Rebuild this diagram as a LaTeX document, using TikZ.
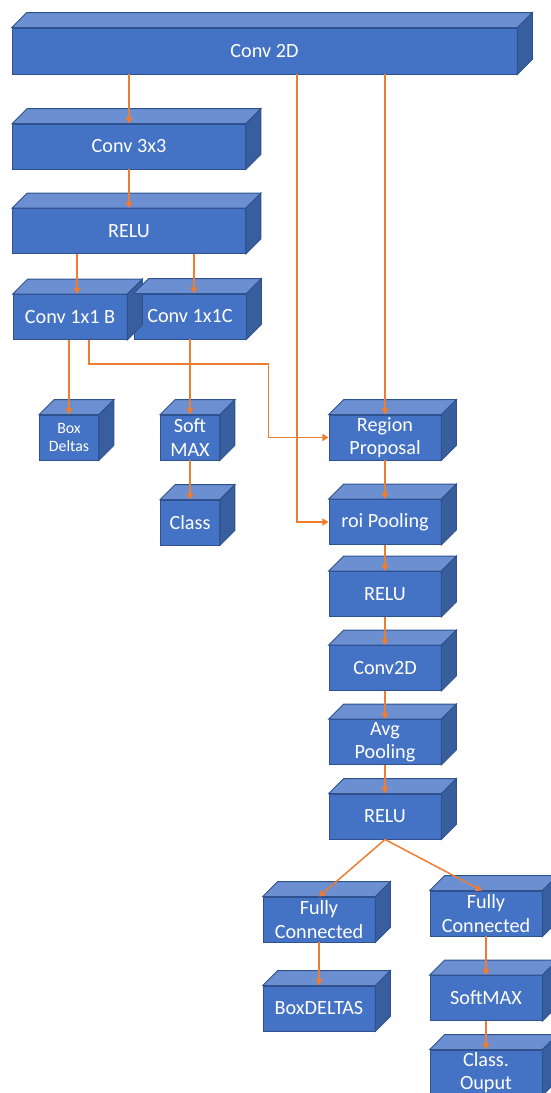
\documentclass[tikz,border=0pt]{standalone}
\usepackage{fontspec}
\setmainfont{Carlito}
\usepackage{tikz}
\usetikzlibrary{positioning,calc,arrows.meta}
\definecolor{boxfront}{HTML}{4472C4}
\definecolor{boxtop}{HTML}{6C8FD1}
\definecolor{boxside}{HTML}{385E9E}
\definecolor{boxedge}{HTML}{2F528F}
\definecolor{link}{HTML}{ED7D31}

\begin{document}
\begin{tikzpicture}[x=0.02cm, y=-0.02cm,
	layer/.style={rectangle, draw=boxedge, line width=0.5pt, fill=boxfront, text=white, font=\fontsize{11.5}{13.3}\selectfont, align=center, inner sep=0pt, minimum height=0.9cm},
	wide/.style={layer, minimum width=4.66cm},
	mid/.style={layer, minimum width=2.24cm},
	small/.style={layer, minimum width=1.18cm},
	arr/.style={draw=link, line width=0.85pt, -{Triangle[length=3.5pt,width=4pt]}}]
	\useasboundingbox (0,0) rectangle (551,1093);

	\node (conv) [layer, minimum width=10.1cm, minimum height=0.92cm] at (264.5,51) {Conv 2D};
	\node (convthree) [wide] at (129,146.5) {Conv 3x3};
	\node (relu) [wide] at (129,231) {RELU};
	\node (convb) [mid, minimum width=2.28cm] at (70,317) {Conv 1x1 B};
	\node (convc) [mid] at (190,316.5) {Conv 1x1C};
	\node (boxdeltas) [small, font=\fontsize{9}{10.2}\selectfont] at (69,437.5) {Box\\Deltas};
	\node (softmax) [small] at (190,437.5) {Soft\\MAX};
	\node (class) [small] at (190,522.5) {Class};

	\node (region) [mid] at (385,437.5) {Region\\Proposal};
	\node (roipool) [mid] at (385,522) {roi Pooling};
	\node (relutwo) [mid] at (385,594) {RELU};
	\node (convtwo) [mid] at (385,668) {Conv2D};
	\node (avgpool) [mid] at (385,742) {Avg\\Pooling};
	\node (reluthree) [mid] at (385,816.5) {RELU};

	\node (fcbox) [mid] at (319,919.5) {Fully\\Connected};
	\node (boxdeltastwo) [mid] at (319,1008.5) {BoxDELTAS};
	\node (fcclass) [mid] at (486,913.5) {Fully\\Connected};
	\node (softmaxtwo) [mid] at (486,998) {SoftMAX};
	\node (classout) [mid] at (486,1072.5) {Class.\\Ouput};

	\foreach \n in {conv,convthree,relu,convb,convc,boxdeltas,softmax,class,region,roipool,relutwo,convtwo,avgpool,reluthree,fcbox,boxdeltastwo,fcclass,softmaxtwo,classout} {
		\draw[boxedge, fill=boxtop, line width=0.5pt] (\n.north west) -- ++(15,-15) -- ($(\n.north east)+(15,-15)$) -- (\n.north east) -- cycle;
		\draw[boxedge, fill=boxside, line width=0.5pt] (\n.north east) -- ++(15,-15) -- ($(\n.south east)+(15,-15)$) -- (\n.south east) -- cycle;
	}

	\coordinate (binb) at ($(convb.north)+(7,0)$);
	\coordinate (binc) at ($(convc.north)+(4,0)$);
	\coordinate (boutb) at ($(convb.south)+(19,0)$);
	\coordinate (coutroi) at ($(conv.south)+(32.5,0)$);

	\draw[arr] (convthree.north |- conv.south) -- (convthree.north);
	\draw[arr] (convthree.south) -- (relu.north);
	\draw[arr] (binb |- relu.south) -- (binb);
	\draw[arr] (binc |- relu.south) -- (binc);
	\draw[arr] (boxdeltas.north |- convb.south) -- (boxdeltas.north);
	\draw[arr] (softmax.north |- convc.south) -- (softmax.north);
	\draw[arr] (softmax.south) -- (class.north);
	\draw[arr] (boutb) -- ++(0,24) -| ($(region.west)+(-60,0)$) -- (region.west);
	\draw[arr] (coutroi) |- (roipool.west);
	\draw[arr] (region.north |- conv.south) -- (region.north);
	\draw[arr] (region) -- (roipool);
	\draw[arr] (roipool) -- (relutwo);
	\draw[arr] (relutwo) -- (convtwo);
	\draw[arr] (convtwo) -- (avgpool);
	\draw[arr] (avgpool) -- (reluthree);
	\draw[arr] (reluthree.south) -- (fcbox.north);
	\draw[arr] (reluthree.south) -- ($(fcclass.north)+(-4,0)$);
	\draw[arr] (fcbox) -- (boxdeltastwo);
	\draw[arr] (fcclass) -- (softmaxtwo);
	\draw[arr] (softmaxtwo) -- (classout);
\end{tikzpicture}
\end{document}
